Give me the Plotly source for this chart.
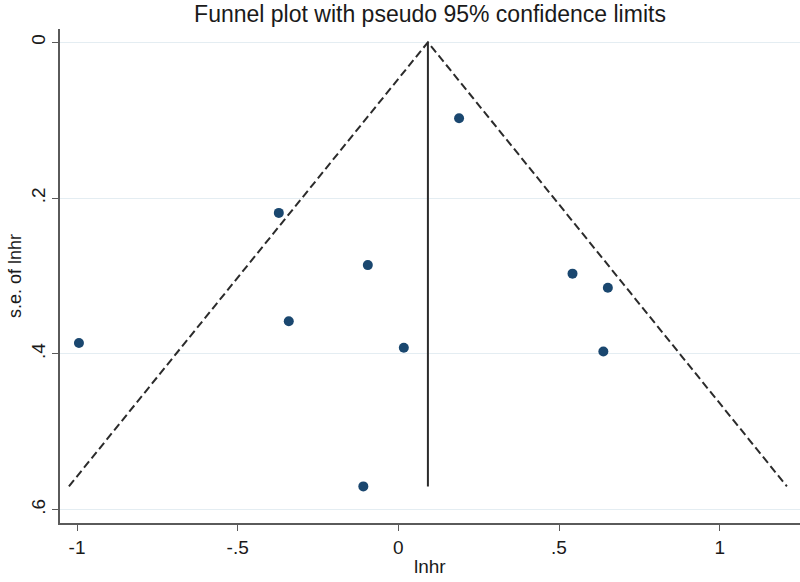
import plotly.graph_objects as go

# Study estimates (log hazard ratio) and their standard errors
lnhr = [0.189, -0.372, -0.095, 0.542, 0.652, -0.341, -0.994, 0.017, 0.638, -0.109]
se_lnhr = [0.0975, 0.219, 0.286, 0.297, 0.315, 0.358, 0.386, 0.392, 0.397, 0.570]

# Pooled estimate (fixed-effect)
theta_hat = 0.092
z95 = 1.96
se_max = max(se_lnhr)

x_ticks = [-1, -0.5, 0, 0.5, 1]
x_tick_labels = ["-1", "-.5", "0", ".5", "1"]
y_ticks = [0, 0.2, 0.4, 0.6]
y_tick_labels = ["0", ".2", ".4", ".6"]

FONT = "Liberation Sans, Arial, sans-serif"
W, H = 800, 582
L, R, T, B = 60, 0, 29, 59
PW, PH = W - L - R, H - T - B

fig = go.Figure()

# pseudo 95% confidence limits
fig.add_trace(go.Scatter(
    x=[theta_hat - z95 * se_max, theta_hat, theta_hat + z95 * se_max],
    y=[se_max, 0, se_max],
    mode="lines",
    line=dict(color="#2b2b2b", width=2, dash="8px,4px"),
    hoverinfo="skip", showlegend=False,
))
# pooled estimate line
fig.add_trace(go.Scatter(
    x=[theta_hat, theta_hat],
    y=[0, se_max],
    mode="lines",
    line=dict(color="#2b2b2b", width=2),
    hoverinfo="skip", showlegend=False,
))
# studies
fig.add_trace(go.Scatter(
    x=lnhr, y=se_lnhr, mode="markers",
    marker=dict(color="#1a476f", size=10),
    showlegend=False,
))

fig.update_layout(
    width=W, height=H,
    margin=dict(l=L, r=R, t=T, b=B, autoexpand=False),
    paper_bgcolor="white", plot_bgcolor="white",
    font=dict(family=FONT, color="#1a1a1a", size=19),
    title=dict(text="Funnel plot with pseudo 95% confidence limits",
               x=(L + W) / 2 / W, xanchor="center",
               y=1 - 14 / H, yanchor="middle",
               font=dict(family=FONT, size=23, color="#1a1a1a")),
    annotations=[
        dict(text="lnhr", xref="paper", yref="paper",
             x=0.5, y=-(566 - (H - B)) / PH, xanchor="center", yanchor="middle",
             showarrow=False, font=dict(family=FONT, size=19, color="#1a1a1a")),
        dict(text="s.e. of lnhr", xref="paper", yref="paper",
             x=-(L - 15) / PW, y=0.5, xanchor="center", yanchor="middle",
             textangle=-90, showarrow=False,
             font=dict(family=FONT, size=18, color="#1a1a1a")),
    ],
)

fig.update_xaxes(
    range=[-1.053, 1.25], automargin=False,
    tickvals=x_ticks, ticktext=x_tick_labels,
    showgrid=False, zeroline=False,
    showline=True, linecolor="#5a5a5a", linewidth=1.5,
    ticks="outside", ticklen=6, tickcolor="#5a5a5a", tickwidth=1.2,
    tickfont=dict(size=19),
)
fig.update_yaxes(
    range=[0.617, -0.017], automargin=False,
    tickvals=y_ticks, ticktext=y_tick_labels,
    tickangle=-90,
    showgrid=True, gridcolor="#e4edf2", gridwidth=1,
    zeroline=False,
    showline=True, linecolor="#5a5a5a", linewidth=1.5,
    ticks="outside", ticklen=6, tickcolor="#5a5a5a", tickwidth=1.2,
    tickfont=dict(size=19),
)

fig.write_html("out.html", config={"displayModeBar": False})

# remove the browser's default page margin so the figure fills the window
with open("out.html", "r", encoding="utf-8") as f:
    html = f.read()
html = html.replace("<head>", "<head><style>html,body{margin:0;padding:0;overflow:hidden;}</style>", 1)
with open("out.html", "w", encoding="utf-8") as f:
    f.write(html)
